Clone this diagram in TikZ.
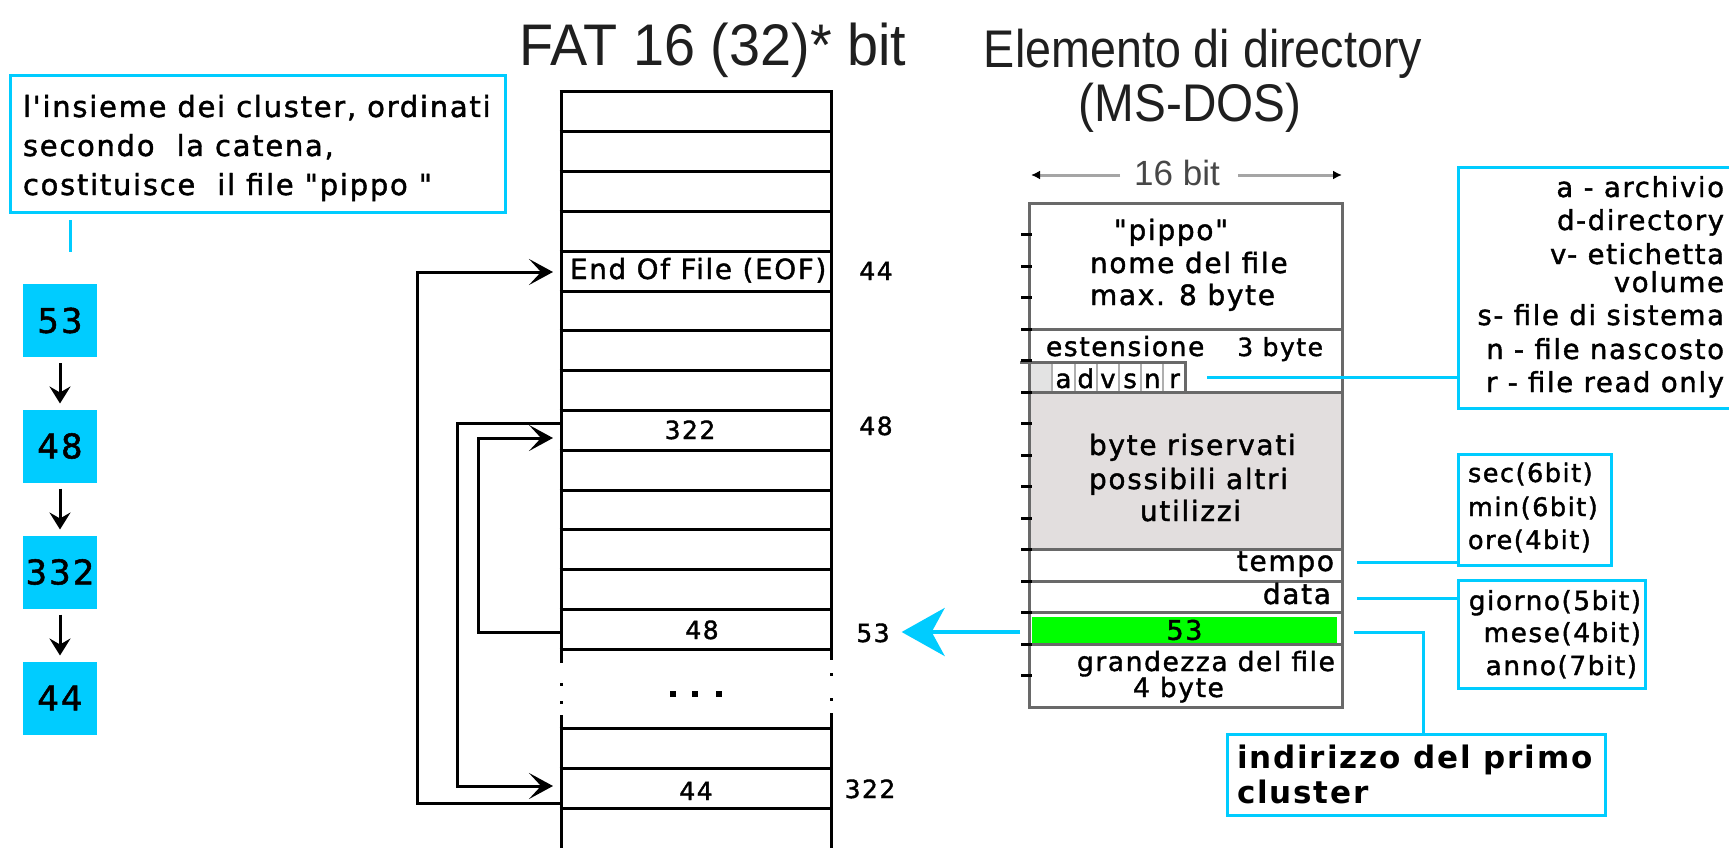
\documentclass[tikz,border=0pt]{standalone}
\usepackage{fontspec}
\usepackage{graphicx}
\usetikzlibrary{arrows.meta}
\newfontfamily\pix[LetterSpace=6,Ligatures=TeXOff,FakeBold=1.5]{DejaVu Sans}
\newfontfamily\pixbf[LetterSpace=6,Ligatures=TeXOff]{DejaVu Sans Bold}
\newfontfamily\headfont{Liberation Sans}
\definecolor{cy}{RGB}{0,204,255}
\definecolor{grn}{RGB}{0,255,0}
\definecolor{resv}{RGB}{226,222,222}
\definecolor{framec}{RGB}{105,105,105}
\definecolor{dimc}{RGB}{165,165,165}
\definecolor{cellc}{RGB}{175,175,175}
\begin{document}
\begin{tikzpicture}[x=1pt,y=-1pt,
  every node/.style={inner sep=0pt,outer sep=0pt},
  sz/.style={font={\pix\fontsize{#1}{#1}\selectfont}},
  tab/.style={line width=3pt,black},
  link/.style={line width=3pt,black,-{Stealth[length=24pt,width=26pt,inset=12pt]}},
  down/.style={line width=3pt,black,-{Stealth[length=17pt,width=21pt,inset=6pt]},shorten <=6pt,shorten >=6pt},
  cyline/.style={line width=3pt,cy},
  cyarrow/.style={line width=4pt,cy,-{Stealth[length=43pt,width=48pt,inset=13pt]}},
  cybox/.style={draw=cy,line width=3.3pt,anchor=north west},
  sq/.style={fill=cy,minimum width=74pt,minimum height=73pt,font={\pix\fontsize{34}{34}\selectfont}},
  frame/.style={line width=3pt,framec},
  tick/.style={line width=3pt,black},
  dimline/.style={line width=3pt,dimc,-{Latex[length=9pt,width=9pt,color=black]}},
  title/.style={font={\headfont\fontsize{#1}{#1}\selectfont},anchor=base,text=black!88},
]
\clip (0,0) rectangle (1729,848);
\fill[white] (0,0) rectangle (1729,848);

% ---------- titles ----------
\node[title=58.7] (fattitle) at (713,66) {\scalebox{0.95}[1]{FAT 16 (32)* bit}};
\node[title=53] (dirtitle) at (1203,68) {\scalebox{0.88}[1]{Elemento di directory}};
\node[title=53] (dirtitleb) at (1190,122) {\scalebox{0.9}[1]{(MS-DOS)}};

% ---------- chain of clusters ----------
\node[cybox,minimum width=495pt,minimum height=137pt] (note) at (10.5,75.5) {};
\node[sz=29,anchor=base west] (note1) at (23,117) {l'insieme dei cluster, ordinati};
\node[sz=29,anchor=base west] (note2) at (23,156) {secondo \ la catena,};
\node[sz=29,anchor=base west] (note3) at (23,195) {costituisce \ il file "pippo "};
\coordinate (notetick) at (70,220);
\draw[cyline] (notetick) -- ++(0,32);

\node[sq] (c1) at (60,320.5) {53};
\node[sq] (c2) at (60,446) {48};
\node[sq] (c3) at (60,572) {332};
\node[sq] (c4) at (60,698) {44};
\draw[down] (c1.south) -- (c2.north);
\draw[down] (c2.south) -- (c3.north);
\draw[down] (c3.south) -- (c4.north);

% ---------- FAT table ----------
\foreach \k in {0,...,14,16,17,18} {\draw[tab] (559.5,{92+39.8*\k}) -- (832.5,{92+39.8*\k});}
\draw[tab] (561,90.5) -- (561,663) (561,715) -- (561,850);
\draw[tab] (831,90.5) -- (831,660) (831,713) -- (831,850);
\foreach \y in {684,702} {\fill (559.5,{\y-1.5}) rectangle ++(3,3);}
\foreach \y in {674,699} {\fill (829.5,{\y-1.5}) rectangle ++(3,3);}
\foreach \x in {673,695,719} {\fill ({\x-3},691) rectangle ++(6,6);}

\node[sz=27.8,anchor=base west] (eof) at (570,279) {End Of File (EOF)};
\node[sz=25,anchor=base] (v322) at (690,439) {322};
\node[sz=25,anchor=base] (v48) at (702,639) {48};
\node[sz=25,anchor=base] (v44) at (696,800) {44};
\node[sz=25,anchor=base] (i44) at (876,280) {44};
\node[sz=25,anchor=base] (i48) at (876,435) {48};
\node[sz=25,anchor=base] (i53) at (873,642) {53};
\node[sz=25,anchor=base] (i322) at (870,798) {322};

% chain links inside the table
\coordinate (from44) at (561,803);   \coordinate (toEOF) at (553,272);
\coordinate (from322) at (561,423);  \coordinate (to44) at (553,786);
\coordinate (from48) at (561,632);   \coordinate (to322) at (553,438);
\draw[link] (from44) -- (417,803) -- (417,272) -- (toEOF);
\draw[link] (from322) -- (457,423) -- (457,786) -- (to44);
\draw[link] (from48) -- (478,632) -- (478,438) -- (to322);

% ---------- directory entry ----------
\node[font={\headfont\fontsize{35}{35}\selectfont},text=black!72,anchor=base] (bits) at (1177,185) {16 bit};
\coordinate (dimL) at (1120,175); \coordinate (dimLend) at (1031,175);
\coordinate (dimR) at (1238,175); \coordinate (dimRend) at (1342,175);
\draw[dimline] (dimL) -- (dimLend);
\draw[dimline] (dimR) -- (dimRend);

\fill[resv] (1030.5,392) rectangle (1340.5,549.5);
\node[fill=grn,minimum width=305pt,minimum height=26pt,sz=27] (clu) at (1184.5,630) {53};

% attribute byte
\fill[gray!22] (1029,362) rectangle (1052,392);
\foreach \x in {1052,1075,1097,1119,1141,1163} {\draw[cellc,line width=2.5pt] (\x,362) -- (\x,392);}
\draw[frame] (1020,362) -- (1185,362) -- (1185,392);
\foreach \l [count=\i] in {a,d,v,s,n,r} {\node[font={\pix\fontsize{26}{26}\selectfont\addfontfeature{LetterSpace=0}},anchor=base] (att\i) at ({1063.5+22.2*(\i-1)},388) {\l};}

\foreach \k in {4,6,11,12,13,14} {\draw[frame] (1029,{203+31.5*\k}) -- (1342,{203+31.5*\k});}
\node[draw=framec,line width=3pt,anchor=north west,minimum width=313pt,minimum height=504pt] (dir) at (1029,203) {};
\foreach \k in {1,...,15} {\draw[tick] (1021,{203+31.5*\k}) -- (1032,{203+31.5*\k});}

\node[sz=28,anchor=base] (nm1) at (1171,240) {"pippo"};
\node[sz=28,anchor=base west] (nm2) at (1090,273) {nome del file};
\node[sz=28,anchor=base west] (nm3) at (1090,305) {max. 8 byte};
\node[sz=26.5,anchor=base west] (ext) at (1046,356) {estensione};
\node[sz=25,anchor=base east] (ext3) at (1323,356) {3 byte};
\node[sz=28,anchor=base west] (rs1) at (1089,455) {byte riservati};
\node[sz=28,anchor=base west] (rs2) at (1089,489) {possibili altri};
\node[sz=28,anchor=base west] (rs3) at (1140,521) {utilizzi};
\node[sz=28,anchor=base east] (tmp) at (1334,571) {tempo};
\node[sz=28,anchor=base east] (dat) at (1331,604) {data};
\node[sz=26.5,anchor=base west] (gr1) at (1077,671) {grandezza del file};
\node[sz=26.5,anchor=base west] (gr2) at (1133,697) {4 byte};

% ---------- callouts ----------
\node[cybox,minimum width=300pt,minimum height=241pt] (attr) at (1458.5,167.5) {};
\foreach \t/\y [count=\i] in {a - archivio/197,d-directory/230,v- etichetta/264,volume/292,s- file di sistema/325,n - file nascosto/359,r - file read only/392}
  {\node[sz=27.5,anchor=base east] (attrl\i) at (1724,\y) {\t};}

\node[cybox,minimum width=153pt,minimum height=111pt] (timebox) at (1458.5,454.5) {};
\node[sz=25.5,anchor=base west] (sec) at (1468,482) {sec(6bit)};
\node[sz=25.5,anchor=base west] (min) at (1468,516) {min(6bit)};
\node[sz=25.5,anchor=base west] (ore) at (1468,549) {ore(4bit)};

\node[cybox,minimum width=187pt,minimum height=108pt] (datebox) at (1458.5,580.5) {};
\node[sz=26.3,anchor=base east] (gio) at (1641,610) {giorno(5bit)};
\node[sz=26.3,anchor=base east] (mes) at (1641,642) {mese(4bit)};
\node[sz=26.3,anchor=base east] (ann) at (1637,675) {anno(7bit)};

\node[cybox,minimum width=378pt,minimum height=81pt] (firstcl) at (1227.5,734.5) {};
\node[font={\pixbf\fontsize{31}{31}\selectfont},anchor=base west] (fc1) at (1237,768) {indirizzo del primo};
\node[font={\pixbf\fontsize{31}{31}\selectfont},anchor=base west] (fc2) at (1237,803) {cluster};

\coordinate (attrsrc) at (1207,377);
\coordinate (temposrc) at (1357,562);
\coordinate (datasrc) at (1357,598);
\coordinate (clusrc) at (1354,632);
\coordinate (clubend) at (1423,632);
\coordinate (arrsrc) at (1020,632);
\draw[cyline] (attrsrc) -- (attrsrc -| attr.west);
\draw[cyline] (temposrc) -- (temposrc -| timebox.west);
\draw[cyline] (datasrc) -- (datasrc -| datebox.west);
\draw[cyline] (clusrc) -- (clubend) -- (clubend |- firstcl.north);
\draw[cyarrow,shorten >=12pt] (arrsrc) -- (i53.east |- arrsrc);
\end{tikzpicture}
\end{document}
